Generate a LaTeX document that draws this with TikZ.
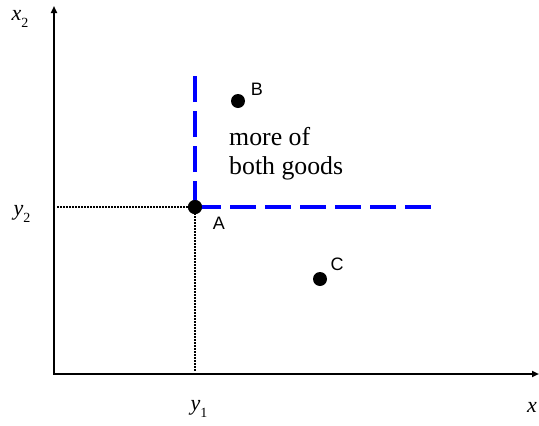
\documentclass[tikz,border=0pt]{standalone}
\usepackage{fontspec}
\setmainfont{Liberation Serif}
\newfontfamily\arialfont{Liberation Sans}
\usetikzlibrary{arrows.meta}
\newcommand{\axlab}[2]{\fontsize{22}{24}\selectfont\textit{#1}\raisebox{-0.28em}{\fontsize{14}{14}\selectfont #2}}
\begin{document}
\begin{tikzpicture}[x=1pt,y=-1pt,
  axis/.style={line width=2pt,-{Triangle[length=7pt,width=6pt]}},
  guide/.style={line width=2pt,dash pattern=on 1.5pt off 1.5pt},
  bound/.style={blue,line width=3.5pt,dash pattern=on 26pt off 9pt},
  dotpt/.style={circle,fill=black,inner sep=0pt,minimum size=14pt},
  ptlab/.style={font=\arialfont\fontsize{18}{20}\selectfont,inner sep=0pt},
  axlabel/.style={inner sep=0pt},
  body/.style={font=\fontsize{25.8}{29}\selectfont,inner sep=0pt,anchor=base west}]
\useasboundingbox (0,0) rectangle (539,426);
\coordinate (O) at (54,374);
\coordinate (ytop) at (54,6);
\coordinate (xend) at (539,374);
\coordinate (y2l) at (57,207);
\coordinate (y1b) at (195,372);
\coordinate (vtop) at (195,75);
\coordinate (hend) at (433,207);
\node[dotpt] (A) at (195,207) {};
\node[dotpt] (B) at (238,101) {};
\node[dotpt] (C) at (320,279) {};
\draw[axis] (O) -- (ytop);
\draw[axis] ([xshift=-1pt]O) -- (xend);
\draw[guide] (y2l) -- (A.center);
\draw[guide] (A.center) -- (y1b);
\draw[bound] (A.center) -- (vtop);
\draw[bound] (A.center) -- (hend);
\node[dotpt] at (A) {};
\node[ptlab] (Al) at (219,223) {A};
\node[ptlab] (Bl) at (257,89) {B};
\node[ptlab] (Cl) at (337,264) {C};
\node[body] (t1) at (229,145) {more of};
\node[body] (t2) at (229,174) {both goods};
\node[axlabel] (x2) at (20,19) {\axlab{x}{2}};
\node[axlabel] (y2) at (22,214) {\axlab{y}{2}};
\node[axlabel] (y1) at (199,409) {\axlab{y}{1}};
\node[axlabel,anchor=base west] (x1) at (527,412) {\fontsize{22}{24}\selectfont\textit{x}};
\end{tikzpicture}
\end{document}
